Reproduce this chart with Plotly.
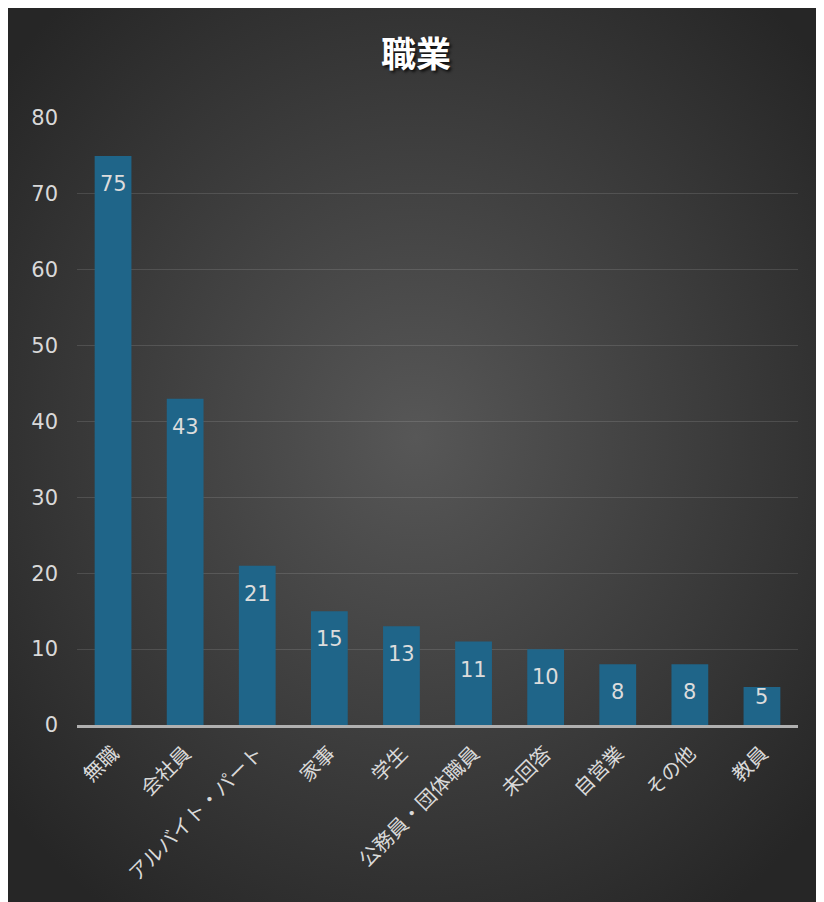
import base64
import plotly.graph_objects as go

categories = ["無職", "会社員", "アルバイト・パート", "家事", "学生", "公務員・団体職員", "未回答", "自営業", "その他", "教員"]
values = [75, 43, 21, 15, 13, 11, 10, 8, 8, 5]
y_ticks = [0, 10, 20, 30, 40, 50, 60, 70, 80]
title_text = "職業"

W, H = 816, 894
L, R, T, B = 69, 26, 110, 177
pw, ph = W - L - R, H - T - B
y_max = 80

svg = '''<svg xmlns="http://www.w3.org/2000/svg" viewBox="0 0 100 100" preserveAspectRatio="none">
<defs><radialGradient id="g" cx="50%" cy="48%" r="65%">
<stop offset="0%" stop-color="#575757"/><stop offset="100%" stop-color="#262626"/>
</radialGradient></defs><rect width="100" height="100" fill="url(#g)"/></svg>'''
src = "data:image/svg+xml;base64," + base64.b64encode(svg.encode()).decode()

cjk = "Noto Sans CJK JP, sans-serif"
num = "DejaVu Sans, sans-serif"

fig = go.Figure(go.Bar(
    x=categories, y=values,
    marker=dict(color="#1f6589", line=dict(width=0)),
    hoverinfo="x+y",
))

# data labels inside the bar top (label offset ~28px, kept inside short bars)
off = 28 * y_max / ph
annotations = [
    dict(x=c, y=max(v - off, off), xref="x", yref="y", text=str(v), showarrow=False,
         yanchor="middle", xanchor="center",
         font=dict(size=21, color="#dcdcdc", family=num))
    for c, v in zip(categories, values)
]

fig.update_layout(
    width=W, height=H,
    margin=dict(l=L, r=R, t=T, b=B, autoexpand=False),
    paper_bgcolor="#2e2e2e", plot_bgcolor="rgba(0,0,0,0)",
    bargap=0.49,
    showlegend=False,
    annotations=annotations,
    title=dict(text=title_text, x=0.5, xanchor="center", y=1 - 47 / H, yanchor="middle",
               font=dict(size=35, color="white", family=cjk, weight="bold",
                         shadow="2px 2px 3px rgba(0,0,0,0.8)")),
    images=[dict(source=src, xref="paper", yref="paper",
                 x=-L / pw, y=(H - B) / ph,
                 sizex=W / pw, sizey=H / ph, xanchor="left", yanchor="top",
                 sizing="stretch", layer="below")],
    xaxis=dict(tickangle=-45, tickfont=dict(size=20, color="#d9d9d9", family=cjk),
               showline=True, linecolor="#b0b0b0", linewidth=2.5, ticks="", showgrid=False,
               ticklabelstandoff=6),
    yaxis=dict(range=[0, y_max], tickvals=y_ticks, tickfont=dict(size=21, color="#d9d9d9", family=num),
               gridcolor="rgba(255,255,255,0.12)", gridwidth=1, zeroline=False, showline=False,
               ticks="", ticklabelstandoff=18),
)

fig.write_html("out.html")
